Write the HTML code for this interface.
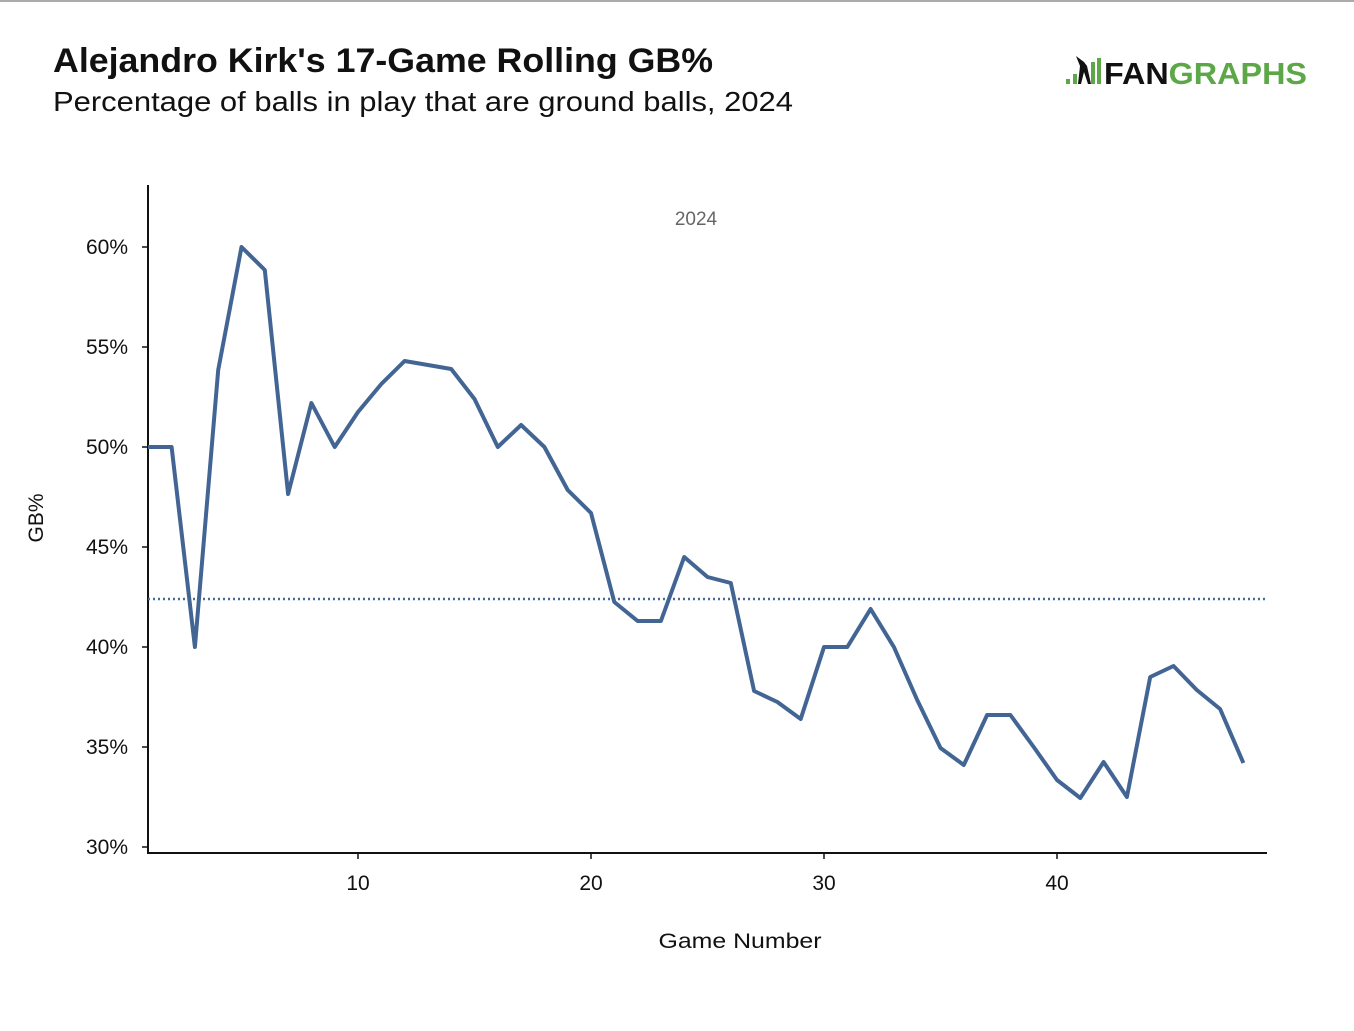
<!DOCTYPE html>
<html><head><meta charset="utf-8"><style>
html,body{margin:0;padding:0;background:#fff;}
body{width:1354px;height:1026px;overflow:hidden;font-family:"Liberation Sans",sans-serif;}
</style></head><body>
<svg width="1354" height="1026" xmlns="http://www.w3.org/2000/svg" font-family="Liberation Sans, sans-serif">
<line x1="0" y1="1" x2="1354" y2="1" stroke="#aaa" stroke-width="2"/>
<text x="53" y="72" font-size="34" font-weight="bold" fill="#111" textLength="660" lengthAdjust="spacingAndGlyphs">Alejandro Kirk's 17-Game Rolling GB%</text>
<text x="53" y="111" font-size="28" fill="#111" textLength="740" lengthAdjust="spacingAndGlyphs">Percentage of balls in play that are ground balls, 2024</text>
<g>
<rect x="1066" y="79" width="4" height="5" fill="#5da748"/>
<rect x="1073" y="74" width="4" height="10" fill="#5da748"/>
<rect x="1091" y="62" width="4" height="22" fill="#5da748"/>
<rect x="1097" y="58" width="4" height="26" fill="#5da748"/>
<path d="M1076 56 L1080 66 L1078 84 L1081 84 L1084 72 L1088 84 L1091 84 L1087 66 L1084 62 Z" fill="#111"/>
<text x="1104" y="84" font-size="31" font-weight="bold" fill="#111" textLength="203" lengthAdjust="spacingAndGlyphs">FAN<tspan fill="#5da748">GRAPHS</tspan></text>
</g>
<text x="696" y="225" font-size="19" fill="#666" text-anchor="middle">2024</text>
<line x1="148" y1="185" x2="148" y2="853" stroke="#111" stroke-width="2"/>
<line x1="147" y1="853" x2="1267" y2="853" stroke="#111" stroke-width="2"/>
<g font-size="21" fill="#111" text-anchor="end">
<text x="128" y="254">60%</text><text x="128" y="354">55%</text><text x="128" y="454">50%</text>
<text x="128" y="554">45%</text><text x="128" y="654">40%</text><text x="128" y="754">35%</text><text x="128" y="854">30%</text>
</g>
<g stroke="#111" stroke-width="1.5">
<line x1="142" y1="247" x2="148" y2="247"/><line x1="142" y1="347" x2="148" y2="347"/><line x1="142" y1="447" x2="148" y2="447"/>
<line x1="142" y1="547" x2="148" y2="547"/><line x1="142" y1="647" x2="148" y2="647"/><line x1="142" y1="747" x2="148" y2="747"/><line x1="142" y1="847" x2="148" y2="847"/>
<line x1="358" y1="853" x2="358" y2="859"/><line x1="591" y1="853" x2="591" y2="859"/><line x1="824" y1="853" x2="824" y2="859"/><line x1="1057" y1="853" x2="1057" y2="859"/>
</g>
<g font-size="21" fill="#111" text-anchor="middle">
<text x="358" y="890">10</text><text x="591" y="890">20</text><text x="824" y="890">30</text><text x="1057" y="890">40</text>
<text x="740" y="948" textLength="163" lengthAdjust="spacingAndGlyphs">Game Number</text>
</g>
<text transform="translate(43,518) rotate(-90)" font-size="21" fill="#111" text-anchor="middle">GB%</text>
<line x1="148" y1="599" x2="1267" y2="599" stroke="#4a6a96" stroke-width="2.5" stroke-dasharray="2,3"/>
<polyline fill="none" stroke="#426594" stroke-width="4" stroke-linejoin="round" points="148,447 171.6,447 194.9,647 218.2,370 241.5,247 264.8,270 288.1,494 311.4,403 334.7,447 358,412 381.3,384 404.6,361 427.9,365 451.2,369 474.5,399 497.8,447 521.1,425 544.4,447 567.7,490 591,513 614.3,602 637.6,621 660.9,621 684.2,557 707.5,577 730.8,583 754.1,691 777.4,702 800.7,719 824,647 847.3,647 870.6,609 893.9,647 917.2,700 940.5,748 963.8,765 987.1,715 1010.4,715 1033.7,747 1057,780 1080.3,798 1103.6,762 1126.9,797 1150.2,677 1173.5,666 1196.8,690 1220.1,709 1243.4,763"/>
</svg>
</body></html>
